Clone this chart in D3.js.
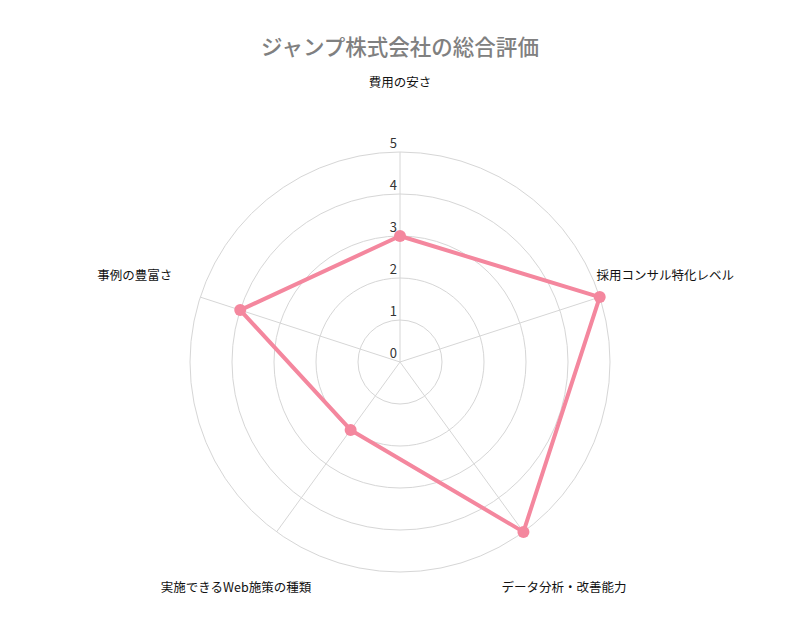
<!DOCTYPE html>
<html>
<head>
<meta charset="utf-8">
<script src="https://cdn.jsdelivr.net/npm/d3@7"></script>
<style>
  body { margin: 0; background: #fff; }
  text { font-family: "Noto Sans CJK JP", "Noto Sans", Roboto, sans-serif; }
</style>
</head>
<body>
<div id="chart"></div>
<script>
// chart data
const categories = ["費用の安さ", "採用コンサル特化レベル", "データ分析・改善能力", "実施できるWeb施策の種類", "事例の豊富さ"];
const values = [3, 5, 5, 2, 4];
const ticks = [0, 1, 2, 3, 4, 5];

const width = 800, height = 642;
const cx = 400, cy = 362;
const radius = 210;

const svg = d3.select("#chart").append("svg")
  .attr("width", width)
  .attr("height", height);

// title
svg.append("text")
  .attr("x", width / 2)
  .attr("y", 55)
  .attr("text-anchor", "middle")
  .attr("font-size", 21.5)
  .attr("font-weight", 500)
  .attr("fill", "#808080")
  .text("ジャンプ株式会社の総合評価");

let g = svg.append("g")
  .attr("transform", "translate(" + cx + "," + cy + ")");

let r = d3.scaleLinear().domain([0, 5]).range([0, radius]);
let angle = d3.scalePoint().domain(categories).range([0, 2 * Math.PI * (categories.length - 1) / categories.length]);

function pos(cat, v) {
  let a = angle(cat) - Math.PI / 2;
  return [r(v) * Math.cos(a), r(v) * Math.sin(a)];
}

// circular grid
g.selectAll("circle.grid")
  .data(ticks.filter(function (t) { return t > 0; }))
  .enter().append("circle")
  .attr("class", "grid")
  .attr("r", function (d) { return r(d); })
  .attr("fill", "none")
  .attr("stroke", "#d6d6d6")
  .attr("stroke-width", 1);

// spokes
g.selectAll("line.spoke")
  .data(categories)
  .enter().append("line")
  .attr("class", "spoke")
  .attr("x1", 0).attr("y1", 0)
  .attr("x2", function (d) { return pos(d, 5)[0]; })
  .attr("y2", function (d) { return pos(d, 5)[1]; })
  .attr("stroke", "#d6d6d6")
  .attr("stroke-width", 1);

// tick labels
g.selectAll("text.tick")
  .data(ticks)
  .enter().append("text")
  .attr("class", "tick")
  .attr("x", -3)
  .attr("y", function (d) { return -r(d) - 4; })
  .attr("text-anchor", "end")
  .attr("font-family", "Roboto, sans-serif")
  .attr("font-size", 13)
  .attr("fill", "#333")
  .text(function (d) { return d; });

// axis labels
let labelR = 279;
g.selectAll("text.label")
  .data(categories)
  .enter().append("text")
  .attr("class", "label")
  .attr("x", function (d) { let a = angle(d) - Math.PI / 2; return labelR * Math.cos(a); })
  .attr("y", function (d) { let a = angle(d) - Math.PI / 2; return labelR * Math.sin(a); })
  .attr("dy", "0.35em")
  .attr("text-anchor", "middle")
  .attr("font-size", 12.5)
  .attr("font-weight", 400)
  .attr("fill", "#111")
  .text(function (d) { return d; });

// data polygon
let pts = categories.map(function (c, i) { return pos(c, values[i]); });
g.append("path")
  .attr("d", d3.line().curve(d3.curveLinearClosed)(pts))
  .attr("fill", "none")
  .attr("stroke", "#f4879e")
  .attr("stroke-width", 4)
  .attr("stroke-linejoin", "round");

g.selectAll("circle.point")
  .data(pts)
  .enter().append("circle")
  .attr("class", "point")
  .attr("cx", function (d) { return d[0]; })
  .attr("cy", function (d) { return d[1]; })
  .attr("r", 6)
  .attr("fill", "#f4879e");
</script>
</body>
</html>
